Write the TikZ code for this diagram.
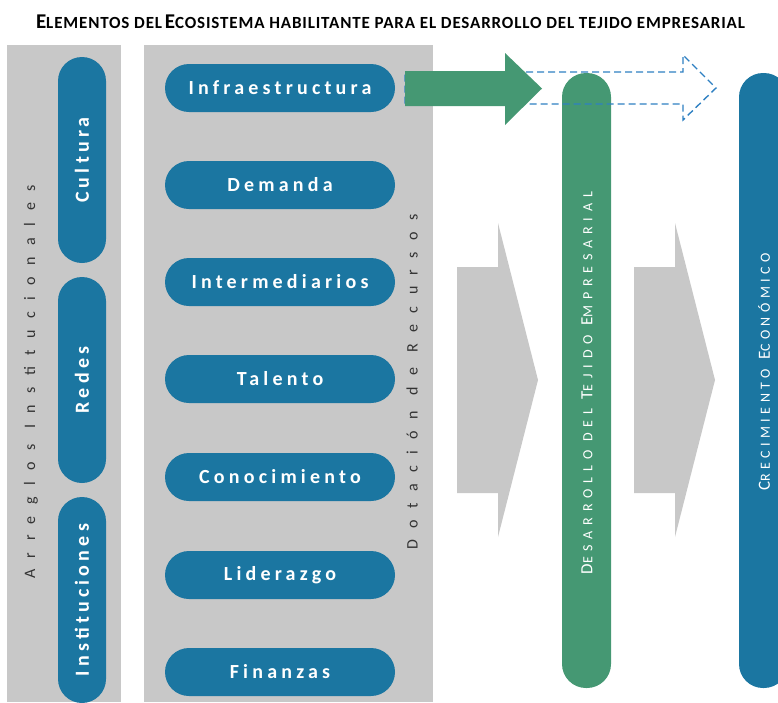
\documentclass[tikz,border=0pt]{standalone}
\usepackage{fontspec}
\setmainfont{Carlito}
\newfontfamily\titlefont[LetterSpace=5]{Carlito}
\newfontfamily\pillfont[LetterSpace=21]{Carlito}
\newfontfamily\sidefont[LetterSpace=72]{Carlito}
\newfontfamily\capsfont[LetterSpace=42]{Carlito}
\newfontfamily\capsfontb[LetterSpace=32]{Carlito}
\definecolor{pillblue}{HTML}{1B76A1}
\definecolor{pillgreen}{HTML}{459873}
\definecolor{panelgray}{HTML}{C8C8C8}
\definecolor{dashblue}{HTML}{2E80C2}
\newcommand\capbig[1]{{\fontsize{17}{17}\selectfont #1}}
\newcommand\capsmall[1]{{\fontsize{14}{14}\selectfont #1}}
\newcommand\wordgap{\hspace{9pt}}
\newcommand\titlebig[1]{{\fontsize{21}{21}\selectfont #1}}
\newcommand\titlesmall[1]{{\fontsize{17}{17}\selectfont #1}}
\tikzset{
  pill/.style={fill=pillblue, rounded corners=24pt, minimum width=230pt, minimum height=48pt,
    inner sep=0pt, text=white, font={\pillfont\bfseries\fontsize{20}{20}\selectfont}},
  sidepill/.style={pill, minimum width=206pt, rotate=90},
  bigpill/.style={pill, minimum width=615pt, minimum height=49pt, rotate=90},
  captext/.style={rotate=90, text=white, inner sep=0pt, font={\capsfont}},
  sidetext/.style={rotate=90, text=black!80, font={\sidefont\fontsize{16}{16}\selectfont}},
  chevron/.style={fill=panelgray, draw=none}
}
\begin{document}
\begin{tikzpicture}[x=1pt,y=-1pt]
\useasboundingbox (0,0) rectangle (778,702);
\node[anchor=base, font=\titlefont\bfseries] (title) at (390.5,28) {\titlebig{E}\titlesmall{LEMENTOS DEL} \titlebig{E}\titlesmall{COSISTEMA HABILITANTE PARA EL DESARROLLO DEL TEJIDO EMPRESARIAL}};
\fill[panelgray] (7,45) rectangle (121,702);
\fill[panelgray] (144,45) rectangle (433,702);
\node[sidetext] (arreglos) at (31,382) {Arreglos Institucionales};
\node[sidetext] (dotacion) at (412,382) {Dotación de Recursos};
\node[sidepill] (cultura) at (82,160) {Cultura};
\node[sidepill] (redes) at (82,380) {Redes};
\node[sidepill] (instituciones) at (82,600) {Instituciones};
\node[pill] (infra) at (280,88) {Infraestructura};
\node[pill] (demanda) at (280,185) {Demanda};
\node[pill] (intermed) at (280,282) {Intermediarios};
\node[pill] (talento) at (280,379) {Talento};
\node[pill] (conocim) at (280,477) {Conocimiento};
\node[pill] (liderazgo) at (280,575) {Liderazgo};
\node[pill] (finanzas) at (280,672) {Finanzas};
\draw[chevron] (457,267) -- (498,267) -- (498,223) -- (538,380) -- (498,537) -- (498,493) -- (457,493) -- cycle;
\draw[chevron] (634,267) -- (675,267) -- (675,223) -- (715,380) -- (675,537) -- (675,493) -- (634,493) -- cycle;
\node[bigpill, fill=pillgreen] (desarrollo) at (586.5,380.5) {};
\node[captext] (desarrollolbl) at (587,383) {\capbig{D}\capsmall{ESARROLLO}\wordgap\capsmall{DEL}\wordgap\capbig{T}\capsmall{EJIDO}\wordgap\capbig{E}\capsmall{MPRESARIAL}};
\node[bigpill] (crecimiento) at (763.5,380.5) {};
\node[captext, font=\capsfontb] (crecimientolbl) at (764,372) {\capbig{C}\capsmall{RECIMIENTO}\wordgap\capbig{E}\capsmall{CONÓMICO}};
\draw[dashblue, line width=1.4pt, dash pattern=on 7pt off 4pt] (405,72) -- (683,72) -- (683,55) -- (716,88) -- (683,120) -- (683,104) -- (405,104) -- cycle;
\fill[pillgreen] (405,71) -- (505,71) -- (505,53) -- (542,88.5) -- (505,125) -- (505,106) -- (405,106) -- cycle;
\end{tikzpicture}
\end{document}
